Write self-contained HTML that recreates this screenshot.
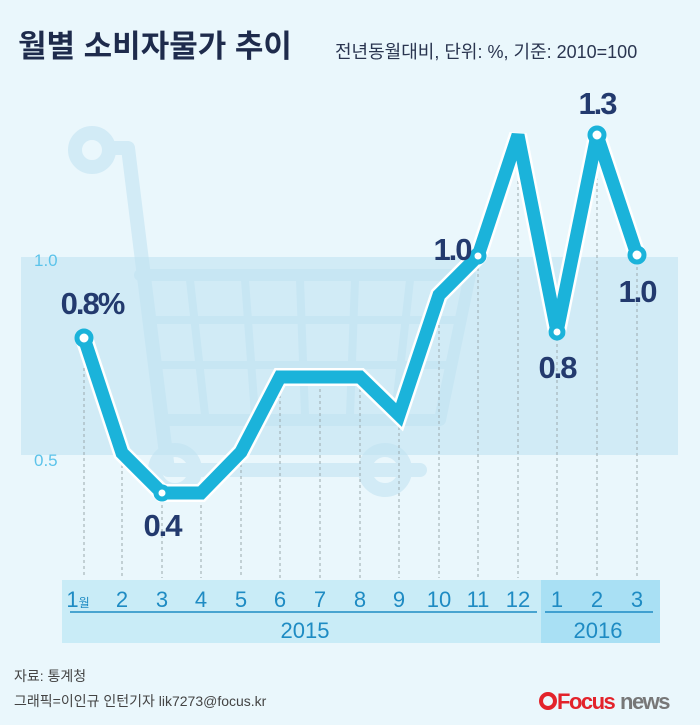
<!DOCTYPE html>
<html><head><meta charset="utf-8"><style>
body{margin:0;width:700px;height:725px;background:#eaf7fc;overflow:hidden;font-family:"Liberation Sans","Noto Sans CJK KR",sans-serif}
</style></head><body>
<svg width="700" height="725" viewBox="0 0 700 725" xmlns="http://www.w3.org/2000/svg" style="position:absolute;left:0;top:0">
<rect width="700" height="725" fill="#eaf7fc"/>
<g fill="none" stroke="#d2ebf6" stroke-linecap="round" stroke-linejoin="round">
<circle cx="92" cy="150" r="17" stroke-width="14"/>
<path d="M110 148 L128 148 L168 470 L420 470" stroke-width="14"/>
<path d="M140 275 L470 275 L440 420 L162 420" stroke-width="12"/>
<path d="M150 320 L460 320 M155 365 L450 365" stroke-width="8"/>
<path d="M190 280 L205 415 M245 280 L255 415 M300 280 L305 415 M355 280 L350 415 M410 280 L395 415" stroke-width="8"/>
<circle cx="175" cy="470" r="20" stroke-width="14"/>
<circle cx="385" cy="470" r="20" stroke-width="14"/>
</g>
<rect x="21" y="257" width="657" height="198" fill="#bfe3f1" opacity="0.6"/>
<text x="34" y="266" font-size="17" fill="#5cc3ea">1.0</text>
<text x="34" y="466" font-size="17" fill="#5cc3ea">0.5</text>
<g stroke="#9aa8ad" stroke-width="1" stroke-dasharray="3,3">
<path d="M84 338V578 M122 453V578 M162 493V578 M201 493V578 M241 452V578 M280 377V578 M320 377V578 M360 377V578 M399 415V578 M439 295V578 M478 256V578 M518 133V578 M557 332V578 M597 135V578 M637 255V578"/>
</g>
<rect x="62" y="580" width="479" height="63" fill="#c9ecf7"/>
<rect x="541" y="580" width="119" height="63" fill="#a9e0f4"/>
<line x1="70" y1="612" x2="537" y2="612" stroke="#1e8bc3" stroke-width="1.5"/>
<line x1="545" y1="612" x2="653" y2="612" stroke="#1e8bc3" stroke-width="1.5"/>
<g font-size="22" fill="#1e8bc3" text-anchor="middle">
<text x="78" y="607">1<tspan font-size="12">월</tspan></text>
<text x="122" y="607">2</text><text x="162" y="607">3</text><text x="201" y="607">4</text><text x="241" y="607">5</text><text x="280" y="607">6</text><text x="320" y="607">7</text><text x="360" y="607">8</text><text x="399" y="607">9</text><text x="439" y="607">10</text><text x="478" y="607">11</text><text x="518" y="607">12</text><text x="557" y="607">1</text><text x="597" y="607">2</text><text x="637" y="607">3</text>
<text x="305" y="638">2015</text><text x="598" y="638">2016</text>
</g>
<polyline points="84,338 122,453 162,493 201,493 241,452 280,377 320,377 360,377 399,415 439,295 478,256 518,135 557,332 597,135 637,255" fill="none" stroke="#ffffff" stroke-width="18" stroke-linejoin="miter" stroke-miterlimit="2.5"/>
<polyline points="84,338 122,453 162,493 201,493 241,452 280,377 320,377 360,377 399,415 439,295 478,256 518,135 557,332 597,135 637,255" fill="none" stroke="#1bb3da" stroke-width="13" stroke-linejoin="miter" stroke-miterlimit="2.5"/>
<g fill="#fff" stroke="#1bb3da" stroke-width="5">
<circle cx="84" cy="338" r="7"/><circle cx="162" cy="493" r="6"/><circle cx="478" cy="256" r="6"/><circle cx="557" cy="332" r="6"/><circle cx="597" cy="135" r="7"/><circle cx="637" cy="255" r="7"/>
</g>
<g font-size="31" fill="#233a6e" font-weight="bold" text-anchor="middle" letter-spacing="-2">
<text x="92" y="314">0.8%</text><text x="162" y="536">0.4</text><text x="452" y="260">1.0</text><text x="557" y="378">0.8</text><text x="597" y="114">1.3</text><text x="637" y="302">1.0</text>
</g>
<text x="18" y="57" font-size="31" font-weight="bold" fill="#1e2b4c">월별 소비자물가 추이</text>
<text x="335" y="58" font-size="18" fill="#2a3550">전년동월대비, 단위: %, 기준: 2010=100</text>
<text x="14" y="681" font-size="14" fill="#444">자료: 통계청</text>
<text x="14" y="706" font-size="14" fill="#444">그래픽=이인규 인턴기자 lik7273@focus.kr</text>
<circle cx="548" cy="701" r="7" fill="none" stroke="#e3232b" stroke-width="4"/>
<text x="557" y="709" font-size="22" font-weight="bold" fill="#e3232b" letter-spacing="-1.5">Focus</text>
<text x="620" y="709" font-size="22" font-weight="bold" fill="#777" letter-spacing="-1.5">news</text>
</svg>
</body></html>
